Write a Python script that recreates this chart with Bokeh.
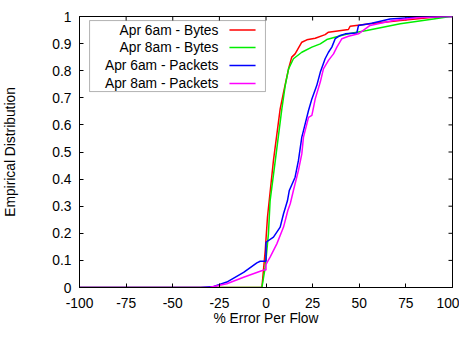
import math
from bokeh.plotting import figure
from bokeh.models import Range1d, FixedTicker, BoxAnnotation, Label
from bokeh.embed import file_html
from bokeh.resources import INLINE

# ---------------- data ----------------
series_names = ["Apr 6am - Bytes", "Apr 8am - Bytes", "Apr 6am - Packets", "Apr 8am - Packets"]
series_colors = ["#ff0000", "#00ee00", "#0000ff", "#ff00ff"]

red_x = [-100, -2.2, -0.4, 0.8, 4.0, 7.6, 9.4, 12.1, 13.8, 15.6, 19.2, 21.9, 26.4, 31.7, 33.5,
         44.2, 45.1, 55.8, 72.0, 89.8, 97.0, 100]
red_y = [0, 0, 0.137, 0.26, 0.469, 0.659, 0.72, 0.807, 0.85, 0.862, 0.905, 0.914, 0.92, 0.933, 0.942,
         0.952, 0.964, 0.973, 0.985, 0.997, 1.0, 1.0]

green_x = [-100, -2.2, -0.4, 1.3, 2.2, 5.0, 8.5, 10.3, 12.1, 14.7, 19.2, 24.6, 29.1, 32.6, 38.9,
           44.2, 54.0, 72.0, 89.8, 98.8, 100]
green_y = [0, 0, 0.075, 0.198, 0.32, 0.469, 0.659, 0.745, 0.807, 0.844, 0.868, 0.887, 0.899, 0.915, 0.927,
           0.936, 0.948, 0.973, 0.991, 1.0, 1.0]

blue_x = [-100, -35, -28, -21, -12, -4.9, -3.1, -0.4, 0.0, 0.0, 4.0, 7.6, 9.4, 11.5, 12.5, 15.6, 17.4,
          19.2, 20.1, 22.8, 24.6, 27.2, 29.1, 31.7, 33.5, 35.3, 37.1, 39.8, 42.5, 48.7, 49.6, 56.7,
          66.5, 80.9, 95.0, 100]
blue_y = [0, 0, 0.004, 0.02, 0.056, 0.091, 0.097, 0.097, 0.097, 0.167, 0.186, 0.223, 0.272, 0.32, 0.358,
          0.407, 0.469, 0.555, 0.579, 0.653, 0.696, 0.745, 0.794, 0.844, 0.868, 0.887, 0.918, 0.93,
          0.936, 0.939, 0.967, 0.975, 0.991, 0.997, 1.0, 1.0]

magenta_x = [-100, -35, -30, -21, -12, -3.1, -1.0, 0.0, 0.0, 2.2, 5.8, 9.4, 11.7, 13.0, 14.7, 17.4,
             19.2, 20.1, 22.8, 24.6, 26.4, 29.1, 30.8, 33.5, 36.2, 38.0, 40.7, 44.2, 49.6, 55.8,
             68.3, 80.9, 95.0, 100]
magenta_y = [0, 0, 0.001, 0.014, 0.038, 0.06, 0.065, 0.065, 0.085, 0.112, 0.161, 0.223, 0.284, 0.309,
             0.358, 0.432, 0.493, 0.555, 0.628, 0.635, 0.696, 0.758, 0.807, 0.838, 0.862, 0.887,
             0.918, 0.927, 0.936, 0.967, 0.985, 0.995, 1.0, 1.0]

x_ticks = [-100, -75, -50, -25, 0, 25, 50, 75, 100]
x_tick_labels = ["-100", "-75", "-50", "-25", "0", "25", "50", "75", "100"]
y_ticks = [0, 0.1, 0.2, 0.3, 0.4, 0.5, 0.6, 0.7, 0.8, 0.9, 1]
y_tick_labels = ["0", "0.1", "0.2", "0.3", "0.4", "0.5", "0.6", "0.7", "0.8", "0.9", "1"]

x_label = "% Error Per Flow"
y_label = "Empirical Distribution"

# ---------------- style ----------------
FONT = "Liberation Sans"
FS = "13.8px"

p = figure(frame_width=373, frame_height=271,
           min_border_left=78, min_border_right=7, min_border_top=16, min_border_bottom=44,
           x_range=Range1d(-100, 100), y_range=Range1d(0, 1),
           output_backend="svg", toolbar_location=None,
           background_fill_color="white", border_fill_color="white")
p.grid.visible = False
p.outline_line_color = "black"
p.outline_line_width = 1


def style_axis(ax, ticks, labels):
    ax.ticker = FixedTicker(ticks=ticks)
    ax.major_label_overrides = {t: l for t, l in zip(ticks, labels)}
    ax.major_tick_in = 4
    ax.major_tick_out = 0
    ax.minor_tick_in = 0
    ax.minor_tick_out = 0
    ax.axis_line_color = "black"
    ax.major_tick_line_color = "black"
    ax.major_label_text_font = FONT
    ax.major_label_text_color = "black"
    ax.major_label_text_font_size = FS
    ax.axis_label_text_font = FONT
    ax.axis_label_text_font_style = "normal"
    ax.axis_label_text_color = "black"
    ax.axis_label_text_font_size = FS


style_axis(p.xaxis[0], x_ticks, x_tick_labels)
style_axis(p.yaxis[0], y_ticks, y_tick_labels)
p.xaxis[0].major_label_standoff = 10
p.yaxis[0].major_label_standoff = 8
p.xaxis[0].axis_label = x_label
p.yaxis[0].axis_label = y_label
p.xaxis[0].axis_label_standoff = 0
p.yaxis[0].axis_label_standoff = 31

# mirrored inward ticks on the top and right edges (8px dash centred on the edge, clipped to frame)
p.dash(x=x_ticks, y=[1] * len(x_ticks), size=8, angle=math.pi / 2, line_color="black", line_width=1)
p.dash(x=[100] * len(y_ticks), y=y_ticks, size=8, angle=0, line_color="black", line_width=1)

xs = [red_x, green_x, blue_x, magenta_x]
ys = [red_y, green_y, blue_y, magenta_y]
for sx, sy, c in zip(xs, ys, series_colors):
    p.line(sx, sy, line_color=c, line_width=1.5)

# ---------------- legend (gnuplot style: text then sample line) ----------------
leg_left, leg_right, leg_top, leg_bottom = -94.6, -0.3, 0.985, 0.723
leg_text_x, leg_line_x0, leg_line_x1 = -25.5, -19.6, -5.6
leg_rows = [0.950, 0.886, 0.819, 0.753]
p.add_layout(BoxAnnotation(left=leg_left, right=leg_right, top=leg_top, bottom=leg_bottom,
                           fill_color="white", fill_alpha=1.0, line_color="black", line_width=1,
                           level="underlay"))
for name, c, yy in zip(series_names, series_colors, leg_rows):
    p.add_layout(Label(x=leg_text_x, y=yy, text=name, text_align="right", text_baseline="middle",
                       text_font=FONT, text_font_size=FS, text_color="black"))
    p.segment(x0=[leg_line_x0], y0=[yy], x1=[leg_line_x1], y1=[yy], line_color=c, line_width=1.5)

open("out.html", "w").write(file_html(p, INLINE))
